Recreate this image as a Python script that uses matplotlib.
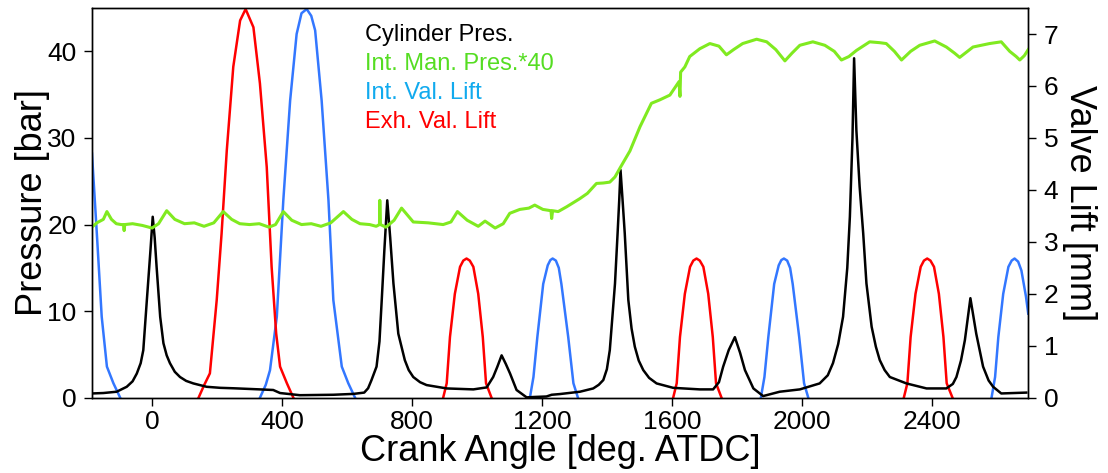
import numpy as np
import matplotlib
matplotlib.use('Agg')
import matplotlib.pyplot as plt

plt.rcParams['font.family'] = ['Liberation Sans', 'DejaVu Sans']

# Cylinder pressure [bar] vs crank angle [deg ATDC]
cyl_ca = [-185, -150, -109, -78, -60, -47, -35, -27, -16, -5, 2, 8, 14, 25, 35, 45, 55, 70, 86, 105, 127,
          168, 210, 250, 332, 373, 394, 455, 558, 620, 653, 665, 675, 691, 700, 707, 715,
          724, 733, 743, 758, 778, 790, 804, 825, 845, 907, 989, 1030, 1050, 1063, 1076, 1089,
          1102, 1122, 1153, 1180, 1214, 1230, 1255, 1317, 1358, 1375, 1389, 1400, 1409, 1425,
          1433, 1438, 1442, 1448, 1455, 1466, 1476, 1486, 1498, 1512, 1530, 1553, 1604, 1686, 1727, 1745, 1758, 1775,
          1794, 1810, 1825, 1851, 1881, 1932, 1994, 2055, 2080, 2096, 2112, 2127, 2140, 2148, 2156,
          2161, 2168, 2178, 2189, 2199, 2215, 2228, 2240, 2255, 2271, 2322, 2384, 2445, 2465, 2476,
          2490, 2502, 2519, 2537, 2558, 2575, 2589, 2614, 2691]
cyl_p = [0.5, 0.55, 0.7, 1.27, 1.9, 2.8, 4.0, 5.5, 11.3, 17.0, 20.9, 18.5, 15.1, 9.35, 6.3, 4.9, 4.0, 3.0, 2.4, 1.95, 1.66,
         1.27, 1.15, 1.1, 0.97, 0.9, 0.55, 0.3, 0.35, 0.45, 0.6, 1.1, 2.0, 3.6, 6.5, 11.3, 17.0,
         22.8, 18.5, 13.2, 7.4, 4.35, 3.2, 2.4, 1.8, 1.47, 1.08, 0.97, 1.2, 2.4, 3.6, 4.9, 3.9,
         2.8, 0.9, 0.05, 0.1, 0.15, 0.35, 0.43, 0.7, 1.08, 1.5, 2.05, 3.3, 5.5, 13.2,
         19.0, 22.8, 26.3, 23.0, 19.0, 11.3, 8.0, 5.9, 4.3, 3.2, 2.3, 1.66, 1.15, 0.97, 0.97, 1.8, 3.6, 5.5,
         7.0, 5.2, 3.2, 1.08, 0.2, 0.7, 0.97, 1.66, 2.6, 4.0, 6.2, 9.35, 15.0, 20.9, 30.0,
         39.2, 30.9, 24.4, 19.0, 13.2, 8.2, 5.9, 4.35, 3.2, 2.4, 1.66, 1.08, 1.08, 1.6, 2.4,
         4.3, 6.65, 11.5, 7.4, 3.6, 2.0, 1.27, 0.5, 0.6]

# Intake manifold pressure * 40 (plotted on pressure axis)
man_ca = [-185, -170, -150, -139, -125, -110, -95, -88, -86, -84, -60, -30, 0, 20,
          45, 70, 100, 130, 160, 190, 219, 245, 270, 300, 330, 360, 380, 404, 430,
          460, 490, 520, 550, 589, 615, 640, 670, 690, 700, 701, 703, 720, 745, 768,
          804, 850, 896, 920, 940, 970, 1004, 1025, 1056, 1081, 1101, 1132, 1160,
          1178, 1203, 1228, 1230, 1233, 1250, 1276, 1317, 1340, 1368, 1389, 1409,
          1425, 1440, 1471, 1502, 1537, 1563, 1594, 1622, 1625, 1627, 1640, 1655,
          1686, 1717, 1745, 1768, 1790, 1818, 1861, 1892, 1920, 1948, 1970, 1994,
          2034, 2071, 2100, 2122, 2145, 2168, 2209, 2240, 2260, 2285, 2307, 2335,
          2363, 2409, 2445, 2470, 2486, 2510, 2527, 2578, 2614, 2640, 2660, 2671,
          2685, 2697]
man_p = [19.7, 20.2, 20.6, 21.5, 20.6, 20.1, 20.0, 20.0, 19.3, 20.0, 20.1, 19.9, 19.6, 20.1,
         21.6, 20.6, 20.1, 20.2, 19.8, 20.2, 21.5, 20.6, 20.1, 20.0, 20.1, 19.7, 20.0, 21.5, 20.5,
         20.0, 20.1, 19.8, 20.2, 21.5, 20.6, 20.1, 20.0, 19.8, 20.0, 22.8, 20.0, 19.7, 20.5, 21.9,
         20.3, 20.2, 20.0, 20.3, 21.5, 20.5, 19.8, 20.4, 19.6, 20.1, 21.3, 21.75, 21.9,
         22.25, 21.75, 21.6, 20.7, 21.6, 21.5, 22.05, 23.0, 23.6, 24.75, 24.8, 24.9,
         25.5, 26.5, 28.5, 31.3, 34.0, 34.4, 34.95, 36.5, 34.8, 37.6, 38.2, 39.4,
         40.3, 40.9, 40.6, 39.6, 40.2, 40.9, 41.4, 41.1, 40.2, 38.9, 39.8, 40.7,
         41.1, 40.7, 40.0, 39.0, 39.4, 40.1, 41.1, 41.0, 40.9, 40.0, 39.0, 40.0,
         40.7, 41.2, 40.5, 39.8, 39.3, 40.0, 40.5, 40.9, 41.1, 40.0, 39.4, 39.0,
         39.5, 40.2]

# Intake valve lift events [mm]
int_ca = [
    [-185, -170, -155, -139, -119, -98],
    [332, 350, 363, 384, 404, 425, 445, 460, 476, 490, 502, 522, 543, 558, 584, 604, 625],
    [1163, 1174, 1186, 1204, 1218, 1226, 1233, 1243, 1252, 1260, 1281, 1297, 1311],
    [1874, 1885, 1897, 1915, 1929, 1937, 1945, 1955, 1964, 1972, 1992, 2007, 2020],
    [2584, 2595, 2605, 2620, 2636, 2646, 2655, 2666, 2676, 2690, 2697],
]
int_lift = [
    [4.7, 3.16, 1.56, 0.6, 0.28, 0],
    [0, 0.25, 0.53, 1.56, 3.8, 5.72, 7.0, 7.4, 7.48, 7.35, 7.07, 5.72, 3.8, 1.88, 0.6, 0.28, 0],
    [0, 0.4, 1.17, 2.19, 2.55, 2.65, 2.68, 2.64, 2.5, 2.19, 1.17, 0.28, 0],
    [0, 0.4, 1.17, 2.19, 2.55, 2.65, 2.68, 2.64, 2.5, 2.19, 1.17, 0.28, 0],
    [0, 0.4, 1.17, 2.0, 2.52, 2.64, 2.68, 2.62, 2.45, 1.95, 1.62],
]

# Exhaust valve lift events [mm]
exh_ca = [
    [143, 160, 178, 199, 214, 230, 250, 271, 288, 312, 332, 353, 368, 382, 394, 415, 435],
    [896, 907, 917, 932, 948, 958, 968, 978, 989, 1004, 1018, 1028, 1045],
    [1604, 1615, 1625, 1640, 1656, 1666, 1676, 1686, 1697, 1712, 1726, 1736, 1753],
    [2314, 2325, 2335, 2350, 2366, 2376, 2386, 2396, 2407, 2422, 2436, 2446, 2464],
]
exh_lift = [
    [0, 0.24, 0.47, 1.88, 3.16, 4.76, 6.37, 7.26, 7.48, 7.13, 6.05, 4.44, 2.52, 1.24, 0.6, 0.28, 0],
    [0, 0.28, 1.17, 2.0, 2.52, 2.64, 2.68, 2.64, 2.52, 2.0, 1.17, 0.28, 0],
    [0, 0.28, 1.17, 2.0, 2.52, 2.64, 2.68, 2.64, 2.52, 2.0, 1.17, 0.28, 0],
    [0, 0.28, 1.17, 2.0, 2.52, 2.64, 2.68, 2.64, 2.52, 2.0, 1.17, 0.28, 0],
]

labels = ['Cylinder Pres.', 'Int. Man. Pres.*40', 'Int. Val. Lift', 'Exh. Val. Lift']
label_colors = ['black', '#55dd22', '#11aaee', '#ff0000']

c_int = '#3377ff'
c_exh = '#ff0000'
c_man = '#80ea20'

fig = plt.figure(figsize=(11.08, 4.73), dpi=100)
ax = fig.add_axes([0.083, 0.159, 0.845, 0.824])
ax2 = ax.twinx()

# valve lifts underneath the pressure traces
for ca, lift in zip(int_ca, int_lift):
    ax2.plot(ca, lift, color=c_int, lw=1.8)
for ca, lift in zip(exh_ca, exh_lift):
    ax2.plot(ca, lift, color=c_exh, lw=1.8)

ax.plot(cyl_ca, cyl_p, color='black', lw=1.8)
ax.plot(man_ca, man_p, color=c_man, lw=2.2)

ax.set_zorder(ax2.get_zorder() + 1)
ax.patch.set_visible(False)

ax.set_xlim(-185, 2697)
ax.set_ylim(0, 45)
ax2.set_ylim(0, 7.5)
ax.set_xticks([0, 400, 800, 1200, 1600, 2000, 2400])
ax.set_yticks([0, 10, 20, 30, 40])
ax2.set_yticks(range(0, 8))

ax.tick_params(axis='both', direction='out', length=6, width=1, labelsize=19, pad=5)
ax.tick_params(axis='x', pad=3)
ax.tick_params(top=False)
ax2.tick_params(axis='y', direction='out', length=6, width=1, labelsize=19, pad=5)

ax.set_xlabel('Crank Angle [deg. ATDC]', fontsize=26, labelpad=0)
ax.set_ylabel('Pressure [bar]', fontsize=26)
ax.yaxis.set_label_coords(-0.045, 0.5)
ax2.set_ylabel('Valve Lift [mm]', fontsize=26, rotation=270, labelpad=28)

for a in (ax, ax2):
    for s in a.spines.values():
        s.set_linewidth(1.0)

# text-only legend
for i, (lab, col) in enumerate(zip(labels, label_colors)):
    ax.text(0.292, 0.931 - i * 0.0745, lab, color=col, fontsize=17,
            transform=ax.transAxes, va='center', ha='left')

fig.savefig('out.png', dpi=100)
